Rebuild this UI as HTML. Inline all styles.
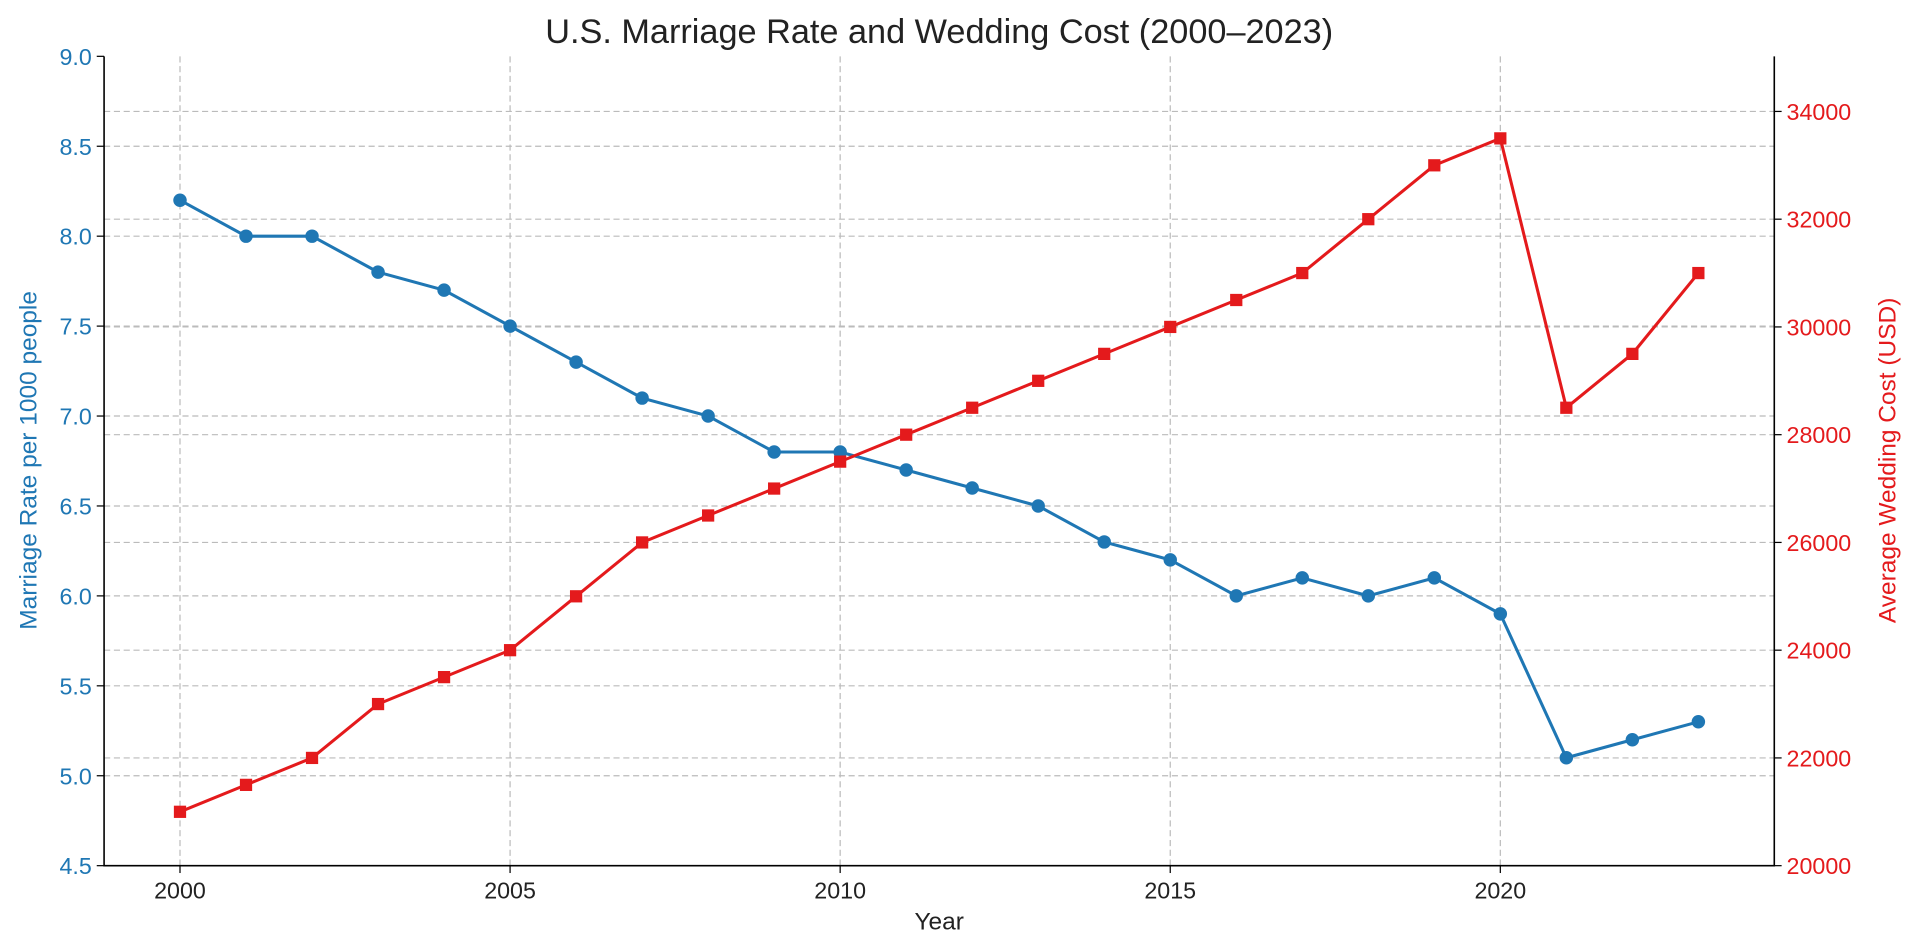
<!DOCTYPE html>
<html><head><meta charset="utf-8"><style>
html,body{margin:0;padding:0;background:#fff;}
svg{display:block;font-family:"Liberation Sans","DejaVu Sans",sans-serif;}
</style></head><body>
<svg id="chart" width="1920" height="952" viewBox="0 0 1568 777.5" preserveAspectRatio="none">
<text x="767" y="35" font-size="28" text-anchor="middle" fill="#222">U.S. Marriage Rate and Wedding Cost (2000–2023)</text>
<g id="grid"></g><g id="axes"></g><g id="series"></g>
<text x="767" y="759" font-size="20" text-anchor="middle" fill="#222">Year</text>
<text transform="translate(30,376) rotate(-90)" font-size="20" text-anchor="middle" fill="#1f77b4">Marriage Rate per 1000 people</text>
<text transform="translate(1548,376) rotate(-90)" font-size="20" text-anchor="middle" fill="#e41a1c">Average Wedding Cost (USD)</text>
</svg>
<script>
const years=[2000,2001,2002,2003,2004,2005,2006,2007,2008,2009,2010,2011,2012,2013,2014,2015,2016,2017,2018,2019,2020,2021,2022,2023];
const marriageRate=[8.2,8.0,8.0,7.8,7.7,7.5,7.3,7.1,7.0,6.8,6.8,6.7,6.6,6.5,6.3,6.2,6.0,6.1,6.0,6.1,5.9,5.1,5.2,5.3];
const weddingCost=[21000,21500,22000,23000,23500,24000,25000,26000,26500,27000,27500,28000,28500,29000,29500,30000,30500,31000,32000,33000,33500,28500,29500,31000];
const xTicks=[2000,2005,2010,2015,2020];
const leftTicks=[4.5,5.0,5.5,6.0,6.5,7.0,7.5,8.0,8.5,9.0];
const rightTicks=[20000,22000,24000,26000,28000,30000,32000,34000];
const L=85,R=1449,T=46,B=707;
const X=v=>L+(v-1998.85)/(2024.15-1998.85)*(R-L);
const YL=v=>B-(v-4.5)/(9.0-4.5)*(B-T);
const YR=v=>B-(v-20000)/(35023-20000)*(B-T);
const NS="http://www.w3.org/2000/svg";
function mk(p,tag,a){const e=document.createElementNS(NS,tag);for(const k in a)e.setAttribute(k,a[k]);p.appendChild(e);return e;}
const grid=document.getElementById('grid'),axes=document.getElementById('axes'),ser=document.getElementById('series');
const gs={stroke:'#bbb','stroke-width':1,'stroke-dasharray':'5,3'};
xTicks.forEach(t=>{const x=X(t);
 const g=mk(grid,'line',Object.assign({x1:x,x2:x,y1:T,y2:B},gs));
 
 
 mk(axes,'line',{x1:x,x2:x,y1:B,y2:B+6,stroke:'#000'});
 const tx=mk(axes,'text',{x:x,y:B+27,'font-size':19,'text-anchor':'middle',fill:'#222'});tx.textContent=t;
 
 });
leftTicks.forEach(t=>{const y=YL(t);
 if(t>4.5&&t<9.0){const g=mk(grid,'line',Object.assign({x1:L,x2:R,y1:y,y2:y},gs));
 
 }
 mk(axes,'line',{x1:L-6,x2:L,y1:y,y2:y,stroke:'#000'});
 const tx=mk(axes,'text',{x:L-10,y:y+7,'font-size':19,'text-anchor':'end',fill:'#1f77b4'});tx.textContent=t.toFixed(1);
 
 });
rightTicks.forEach(t=>{const y=YR(t);
 if(t>20000){const g=mk(grid,'line',Object.assign({x1:L,x2:R,y1:y,y2:y},gs));
 
 }
 mk(axes,'line',{x1:R,x2:R+6,y1:y,y2:y,stroke:'#000'});
 const tx=mk(axes,'text',{x:R+10,y:y+7,'font-size':19,'text-anchor':'start',fill:'#e41a1c'});tx.textContent=t;
 
 });
const frame=mk(axes,'path',{d:`M${L},${T}V${B}H${R}V${T}`,fill:'none',stroke:'#000','stroke-width':1.3});


const bl=mk(ser,'polyline',{points:years.map((y,i)=>X(y)+','+YL(marriageRate[i])).join(' '),fill:'none',stroke:'#1f77b4','stroke-width':2.5});


const rl=mk(ser,'polyline',{points:years.map((y,i)=>X(y)+','+YR(weddingCost[i])).join(' '),fill:'none',stroke:'#e41a1c','stroke-width':2.5});


years.forEach((y,i)=>{
 const c=mk(ser,'circle',{cx:X(y),cy:YL(marriageRate[i]),r:5.5,fill:'#1f77b4'});
 
 
 const s=mk(ser,'rect',{x:X(y)-5,y:YR(weddingCost[i])-5,width:10,height:10,fill:'#e41a1c'});
 
 
});
</script>
</body></html>
